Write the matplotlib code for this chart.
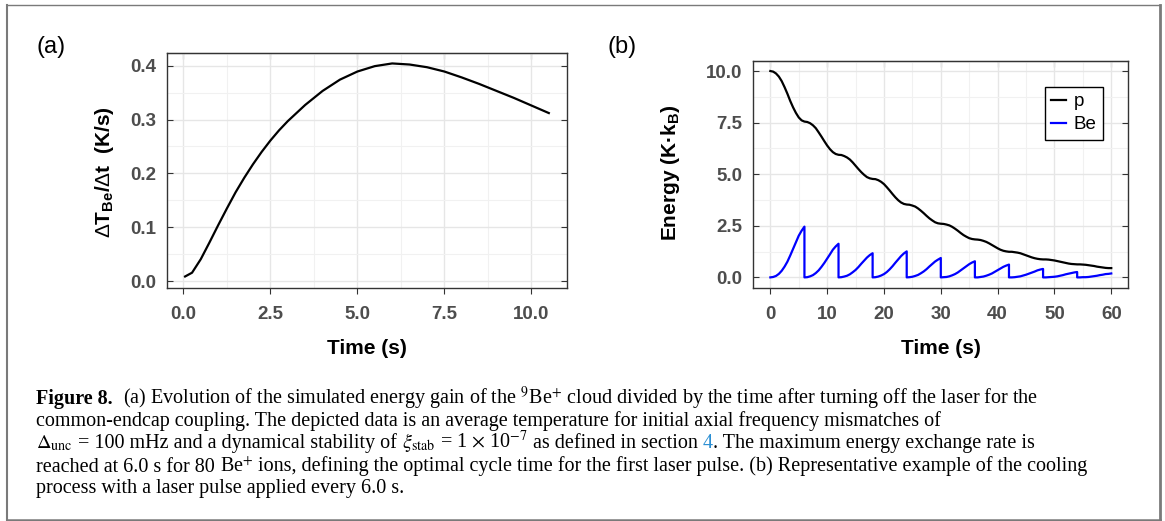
import matplotlib
matplotlib.use("Agg")
import matplotlib.pyplot as plt
from matplotlib.ticker import MultipleLocator, FormatStrFormatter
from matplotlib.lines import Line2D

plt.rcParams['font.family'] = ['Liberation Sans', 'DejaVu Sans']
plt.rcParams['mathtext.fontset'] = 'custom'
plt.rcParams['mathtext.rm'] = 'Liberation Sans'
plt.rcParams['mathtext.bf'] = 'Liberation Sans:bold'
plt.rcParams['mathtext.it'] = 'Liberation Sans:italic'

# (a) energy gain rate of the Be cloud
rate_t = [0.05, 0.25, 0.5, 0.75, 1.0, 1.25, 1.5, 1.75, 2.0, 2.25, 2.5, 2.75, 3.0,
          3.5, 4.0, 4.5, 5.0, 5.5, 6.0, 6.5, 7.0, 7.5, 8.0, 8.5, 9.0, 9.5, 10.0, 10.5]
rate_val = [0.009, 0.016, 0.041, 0.072, 0.104, 0.135, 0.165, 0.192, 0.217, 0.240,
            0.261, 0.280, 0.297, 0.327, 0.353, 0.374, 0.389, 0.399, 0.404, 0.402,
            0.397, 0.389, 0.378, 0.366, 0.353, 0.340, 0.326, 0.312]

# (b) cooling with a laser pulse every 6 s
pulse_times = [0, 6, 12, 18, 24, 30, 36, 42, 48, 54]
cycle_t = [0.0, 0.5, 1.0, 1.5, 2.0, 2.5, 3.0, 3.5, 4.0, 4.5, 5.0, 5.5, 6.0]
p_start = 10.0
# proton energy at cycle_t[1:] in each cycle
p_cycles = [
    [9.97, 9.88, 9.73, 9.51, 9.22, 8.90, 8.55, 8.24, 7.97, 7.75, 7.61, 7.55],
    [7.53, 7.47, 7.37, 7.23, 7.03, 6.82, 6.60, 6.39, 6.21, 6.07, 5.98, 5.94],
    [5.93, 5.88, 5.81, 5.71, 5.57, 5.41, 5.25, 5.10, 4.97, 4.86, 4.80, 4.77],
    [4.76, 4.71, 4.63, 4.52, 4.37, 4.21, 4.04, 3.88, 3.74, 3.63, 3.56, 3.53],
    [3.52, 3.48, 3.43, 3.34, 3.23, 3.11, 2.98, 2.86, 2.76, 2.67, 2.62, 2.60],
    [2.59, 2.56, 2.52, 2.45, 2.36, 2.26, 2.15, 2.05, 1.97, 1.90, 1.86, 1.84],
    [1.83, 1.81, 1.77, 1.72, 1.65, 1.57, 1.49, 1.41, 1.34, 1.29, 1.26, 1.24],
    [1.24, 1.22, 1.20, 1.17, 1.12, 1.07, 1.02, 0.97, 0.93, 0.90, 0.88, 0.87],
    [0.87, 0.86, 0.84, 0.82, 0.79, 0.76, 0.73, 0.70, 0.67, 0.65, 0.64, 0.63],
    [0.63, 0.62, 0.61, 0.59, 0.57, 0.55, 0.52, 0.50, 0.48, 0.46, 0.45, 0.45],
]
# Be energy at cycle_t[1:] in each cycle (starts at 0 after each pulse)
be_cycles = [
    [0.02, 0.07, 0.17, 0.32, 0.52, 0.76, 1.06, 1.38, 1.70, 2.02, 2.26, 2.46],
    [0.01, 0.05, 0.11, 0.21, 0.34, 0.51, 0.70, 0.91, 1.12, 1.34, 1.50, 1.63],
    [0.01, 0.04, 0.08, 0.15, 0.25, 0.36, 0.50, 0.66, 0.81, 0.96, 1.08, 1.17],
    [0.01, 0.04, 0.09, 0.16, 0.26, 0.39, 0.54, 0.71, 0.87, 1.03, 1.16, 1.26],
    [0.01, 0.03, 0.07, 0.12, 0.20, 0.29, 0.40, 0.53, 0.65, 0.77, 0.86, 0.94],
    [0.01, 0.02, 0.05, 0.10, 0.16, 0.24, 0.34, 0.44, 0.54, 0.64, 0.72, 0.78],
    [0.00, 0.02, 0.04, 0.08, 0.13, 0.19, 0.27, 0.35, 0.43, 0.51, 0.57, 0.62],
    [0.00, 0.01, 0.03, 0.05, 0.09, 0.13, 0.18, 0.23, 0.28, 0.34, 0.38, 0.41],
    [0.00, 0.01, 0.02, 0.03, 0.05, 0.08, 0.11, 0.15, 0.18, 0.21, 0.24, 0.26],
    [0.00, 0.01, 0.01, 0.02, 0.04, 0.06, 0.08, 0.11, 0.13, 0.16, 0.17, 0.19],
]
legend_labels = ['p', 'Be']

t_p, e_p = [0.0], [p_start]
t_be, e_be = [], []
for t0, pv, bv in zip(pulse_times, p_cycles, be_cycles):
    t_p += [t0 + dt for dt in cycle_t[1:]]
    e_p += pv
    t_be += [t0 + dt for dt in cycle_t]
    e_be += [0.0] + bv

W, H = 1165, 521
fig = plt.figure(figsize=(W / 100, H / 100), dpi=100)


def px_rect(x0, y0, x1, y1):
    return [x0 / W, 1 - y1 / H, (x1 - x0) / W, (y1 - y0) / H]


ax_a = fig.add_axes(px_rect(166.9, 53.3, 567, 287.7))
ax_b = fig.add_axes(px_rect(753.3, 60.7, 1128.3, 287.7))


def style(ax, xmaj, ymaj, xfmt, yfmt):
    ax.xaxis.set_major_locator(MultipleLocator(xmaj))
    ax.xaxis.set_minor_locator(MultipleLocator(xmaj / 2))
    ax.yaxis.set_major_locator(MultipleLocator(ymaj))
    ax.yaxis.set_minor_locator(MultipleLocator(ymaj / 2))
    ax.xaxis.set_major_formatter(FormatStrFormatter(xfmt))
    ax.yaxis.set_major_formatter(FormatStrFormatter(yfmt))
    ax.grid(which='major', color='#e6e6e6', lw=1.0)
    ax.grid(which='minor', color='#f1f1f1', lw=0.8)
    ax.set_axisbelow(True)
    for s in ax.spines.values():
        s.set_color('#333333')
        s.set_linewidth(1.0)
    ax.tick_params(which='minor', length=0)
    ax.tick_params(axis='x', which='major', direction='out', length=4, width=0.8,
                   color='#333333', labelsize=13.5, labelcolor='#4d4d4d', pad=9)
    ax.tick_params(axis='y', which='major', direction='in', length=4, width=0.8,
                   color='#333333', labelsize=13.5, labelcolor='#4d4d4d', pad=8,
                   right=True)
    for lab in ax.get_xticklabels() + ax.get_yticklabels():
        lab.set_fontweight('bold')
    top = ax.secondary_xaxis('top')
    top.xaxis.set_major_locator(MultipleLocator(xmaj))
    top.tick_params(direction='in', length=4, width=0.8, color='#333333',
                    labeltop=False)
    top.spines['top'].set_color('#333333')


ax_a.plot(rate_t, rate_val, color='black', lw=1.6)
ax_a.set_xlim(-0.4725, 11.0225)
ax_a.set_ylim(-0.0118, 0.4228)
style(ax_a, 2.5, 0.1, '%.1f', '%.1f')

ax_b.plot(t_p, e_p, color='black', lw=1.6)
ax_b.plot(t_be, e_be, color='blue', lw=1.6)
ax_b.set_xlim(-3, 63)
ax_b.set_ylim(-0.5, 10.5)
style(ax_b, 10, 2.5, '%d', '%.1f')

handles = [Line2D([], [], color='black', lw=1.6), Line2D([], [], color='blue', lw=1.6)]
leg = ax_b.legend(handles, legend_labels, loc='upper right',
                  bbox_to_anchor=(1103 / W, 1 - 86.7 / H), bbox_transform=fig.transFigure,
                  frameon=True, fancybox=False, edgecolor='black', framealpha=1,
                  fontsize=13.5, handlelength=0.8, handletextpad=0.4, borderpad=0.35,
                  labelspacing=0.3, borderaxespad=0)
leg.get_frame().set_linewidth(1.0)

# axis titles and panel tags
fig.text(367 / W, 1 - 348 / H, 'Time (s)', ha='center', va='center',
         fontsize=15, fontweight='bold')
fig.text(941 / W, 1 - 348 / H, 'Time (s)', ha='center', va='center',
         fontsize=15, fontweight='bold')
fig.text(104 / W, 1 - 172 / H, r'$\Delta\mathbf{T_{Be}/}\Delta\mathbf{t}$  (K/s)',
         ha='center', va='center', rotation=90, fontsize=15, fontweight='bold')
fig.text(671 / W, 1 - 173 / H, r'Energy (K·$\mathbf{k_B}$)',
         ha='center', va='center', rotation=90, fontsize=15, fontweight='bold')
fig.text(51 / W, 1 - 47 / H, '(a)', ha='center', va='center', fontsize=17)
fig.text(622 / W, 1 - 47 / H, '(b)', ha='center', va='center', fontsize=17)

# caption, drawn piece by piece (link colour, sub/superscripts)
renderer = fig.canvas.get_renderer()
cap_kw = dict(fontsize=14.5, family='Liberation Serif', math_fontfamily='stix',
              ha='left', va='baseline')
link = dict(color='#2b8fd3')
caption = [
    (404, [('Figure 8.', dict(fontweight='bold')),
           (r'  (a) Evolution of the simulated energy gain of the $^{9}$Be$^{+}$ cloud divided '
            'by the time after turning off the laser for the', {})]),
    (426, [('common-endcap coupling. The depicted data is an average temperature for initial '
            'axial frequency mismatches of', {})]),
    (448, [(r'$\Delta_{\rm unc}$', {}), (' = 100 mHz and a dynamical stability of ', {}),
           (r'$\xi_{\rm stab}$', {}), (r' = 1 $\times$ 10$^{-7}$', {}),
           (' as defined in section', {}), (' 4', link),
           ('. The maximum energy exchange rate is', {})]),
    (471.5, [('reached at 6.0 s for 80 ', {}), (r'Be$^{+}$', {}),
             (' ions, defining the optimal cycle time for the first laser pulse. '
              '(b) Representative example of the cooling', {})]),
    (493.5, [('process with a laser pulse applied every 6.0 s.', {})]),
]
for y_px, segments in caption:
    x = 36 / W
    for text, kw in segments:
        t = fig.text(x, 1 - y_px / H, text, **cap_kw, **kw)
        x = t.get_window_extent(renderer).x1 / W

# outer frame
frame_col = '#7a7a7a'
fig.add_artist(Line2D([6.5 / W, 6.5 / W], [1 - 4.5 / H, 1 - 519.5 / H], color=frame_col, lw=1.5))
fig.add_artist(Line2D([1159.5 / W, 1159.5 / W], [1 - 4.5 / H, 1 - 519.5 / H], color=frame_col, lw=2.0))
fig.add_artist(Line2D([6.5 / W, 1159.5 / W], [1 - 4.5 / H, 1 - 4.5 / H], color=frame_col, lw=1.0))
fig.add_artist(Line2D([6.5 / W, 1159.5 / W], [1 - 519.5 / H, 1 - 519.5 / H], color=frame_col, lw=1.8))

fig.savefig('out.png', dpi=100)
